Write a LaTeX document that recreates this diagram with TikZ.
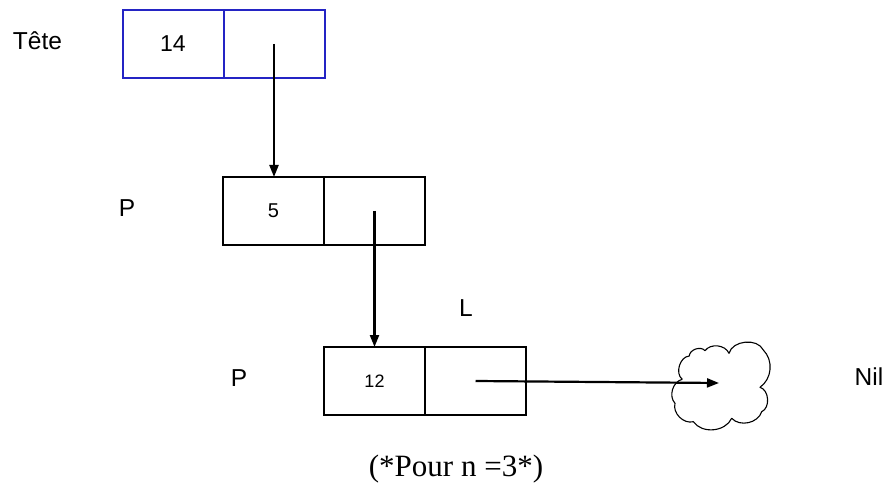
\documentclass[tikz,border=0pt]{standalone}
\usepackage{fontspec}
\setmainfont{Liberation Sans}
\newfontfamily\capfont{Liberation Serif}
\usetikzlibrary{arrows.meta}
\definecolor{recblue}{RGB}{36,36,196}
\begin{document}
\begin{tikzpicture}[x=1pt,y=-1pt,
  cell/.style={draw, line width=2pt, minimum width=101pt, minimum height=68pt,
    inner sep=0pt, outer sep=0pt, anchor=north west, font=\fontsize{20}{20}\selectfont},
  headcell/.style={cell, draw=recblue, font=\fontsize{23}{23}\selectfont},
  lbl/.style={font=\fontsize{24.5}{24.5}\selectfont, inner sep=0pt, anchor=base},
  ptr/.style={line width=2.2pt, -{Triangle[length=12pt,width=9pt]}},
  cloudline/.style={line width=1.1pt, line join=round}
]
\useasboundingbox (0,0) rectangle (891,486);

% head record
\node[headcell] (a1) at (122.5,10) {14};
\node[headcell] (a2) at (a1.north east) {};
% second record
\node[cell] (b1) at (223,177) {5};
\node[cell] (b2) at (b1.north east) {};
% third record
\node[cell, font=\fontsize{18}{18}\selectfont] (c1) at (324,347) {12};
\node[cell] (c2) at (c1.north east) {};

% labels
\node[lbl] (tete) at (37.5,49.3) {Tête};
\node[lbl] (p1) at (127,216.7) {P};
\node[lbl] (p2) at (239,386.7) {P};
\node[lbl] (l) at (466,316) {L};
\node[lbl] (nil) at (869,385) {Nil};

% Nil cloud
\draw[cloudline] (682.3,379.3) to[bend left=70] (689.3,356) to[bend left=70] (705,350.7)
  to[bend left=60] (729,353.3) to[bend left=70] (763.3,350) to[bend left=50] (760,387.3)
  to[bend left=70] (761.7,411.7) to[bend left=60] (731.7,418.3) to[bend left=60] (693.3,421.7)
  to[bend left=60] (675,403.3) to[bend left=60] (682.3,379.3);
\coordinate (cloudc) at (719,383);

% pointers
\draw[ptr] (a2.center) -- (a2.center |- b1.north);
\draw[ptr] (b2.center) -- (b2.center |- c1.north);
\draw[ptr] (c2.center) -- (cloudc);

% caption
\node[inner sep=0pt, anchor=base, font=\capfont\fontsize{31}{31}\selectfont] (cap) at (456,476.7) {(*Pour n =3*)};
\end{tikzpicture}
\end{document}
